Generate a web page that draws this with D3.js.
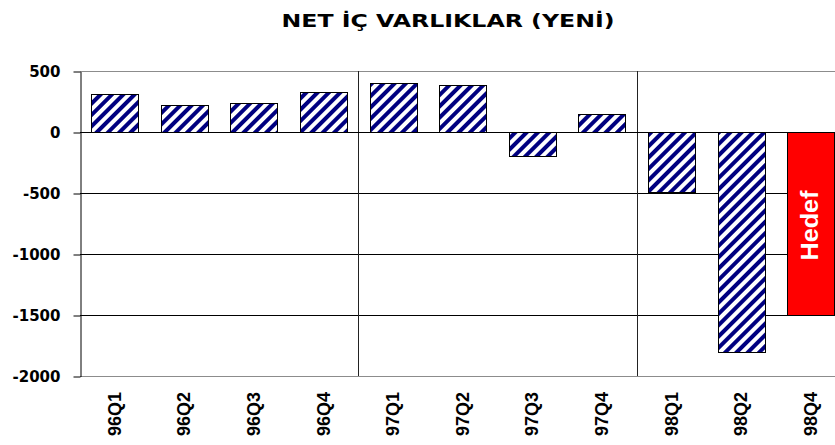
<!DOCTYPE html>
<html>
<head>
<meta charset="utf-8">
<script src="https://cdn.jsdelivr.net/npm/d3@7/dist/d3.min.js"></script>
<style>
  body { margin: 0; background: #fff; }
  svg { display: block; }
</style>
</head>
<body>
<svg id="chart" width="835" height="445"></svg>
<script>
// quarters and net domestic assets
const quarters = ["96Q1", "96Q2", "96Q3", "96Q4", "97Q1", "97Q2", "97Q3", "97Q4", "98Q1", "98Q2", "98Q4"];
const values = [310, 225, 240, 330, 400, 385, -200, 145, -495, -1800, -1500];
const targetQuarter = "98Q4";
const targetLabel = "Hedef";
const yTicks = [500, 0, -500, -1000, -1500, -2000];
const yearStarts = ["97Q1", "98Q1"];
const title = "NET İÇ VARLIKLAR (YENİ)";

const svg = d3.select("#chart");

const plotLeft = 80, plotTop = 71, plotBottom = 376;
const step = 69.6;

const x = d3.scaleBand()
  .domain(quarters)
  .range([plotLeft, plotLeft + step * quarters.length])
  .paddingInner(0.32)
  .paddingOuter(0.16);

const y = d3.scaleLinear()
  .domain([-2000, 500])
  .range([plotBottom, plotTop]);

// stripes for the normal bars
const defs = svg.append("defs");
const pat = defs.append("pattern")
  .attr("id", "hatch")
  .attr("patternUnits", "userSpaceOnUse")
  .attr("width", 8)
  .attr("height", 8)
  .attr("patternTransform", "rotate(45)");
pat.append("rect").attr("width", 8).attr("height", 8).attr("fill", "#fff");
pat.append("rect").attr("width", 4).attr("height", 8).attr("fill", "#000080");

// title
svg.append("text")
  .attr("x", 448)
  .attr("y", 27)
  .attr("text-anchor", "middle")
  .attr("textLength", 333)
  .attr("lengthAdjust", "spacingAndGlyphs")
  .style("font-family", "DejaVu Sans")
  .style("font-weight", "bold")
  .style("font-size", "17px")
  .text(title);

const xEnd = plotLeft + step * quarters.length;

// horizontal grid
svg.append("g")
  .selectAll("line")
  .data(yTicks)
  .enter()
  .append("line")
  .attr("x1", plotLeft)
  .attr("x2", xEnd)
  .attr("y1", d => Math.round(y(d)) + 0.5)
  .attr("y2", d => Math.round(y(d)) + 0.5)
  .attr("stroke", d => (d === 500 || d === -2000) ? "#8c8c8c" : "#000")
  .attr("stroke-width", 1);

// year separators
const gap = (x.step() - x.bandwidth()) / 2;
svg.append("g")
  .selectAll("line")
  .data(yearStarts)
  .enter()
  .append("line")
  .attr("x1", d => Math.round(x(d) - gap) + 0.5)
  .attr("x2", d => Math.round(x(d) - gap) + 0.5)
  .attr("y1", plotTop)
  .attr("y2", plotBottom)
  .attr("stroke", "#222")
  .attr("stroke-width", 1);

// bars
const bars = svg.append("g");
bars.selectAll("rect")
  .data(quarters)
  .enter()
  .append("rect")
  .attr("x", d => Math.round(x(d)) + 0.5)
  .attr("width", Math.round(x.bandwidth()))
  .attr("y", (d, i) => Math.round(y(Math.max(0, values[i]))) + 0.5)
  .attr("height", (d, i) => Math.round(Math.abs(y(values[i]) - y(0))))
  .attr("fill", d => d === targetQuarter ? "#ff0000" : "url(#hatch)")
  .attr("stroke", "#000")
  .attr("stroke-width", 1);

// target label
const ti = quarters.indexOf(targetQuarter);
svg.append("text")
  .attr("transform", "translate(" + (x(targetQuarter) + x.bandwidth() / 2 + 7) + "," + (y(values[ti] / 2) + 2) + ") rotate(-90)")
  .attr("text-anchor", "middle")
  .attr("textLength", 70)
  .attr("lengthAdjust", "spacingAndGlyphs")
  .attr("fill", "#fff")
  .style("font-family", "Liberation Sans, Arial, sans-serif")
  .style("font-weight", "bold")
  .style("font-size", "23px")
  .text(targetLabel);

// zero line
svg.append("line")
  .attr("x1", plotLeft)
  .attr("x2", xEnd)
  .attr("y1", Math.round(y(0)) + 0.5)
  .attr("y2", Math.round(y(0)) + 0.5)
  .attr("stroke", "#000");

// y axis
const yAxis = svg.append("g")
  .attr("transform", "translate(" + (plotLeft + 0.5) + ",0.5)")
  .call(d3.axisLeft(y).tickValues(yTicks).tickSize(7).tickSizeOuter(0).tickFormat(d => String(d)));
yAxis.select(".domain").attr("stroke", "#000");
yAxis.selectAll(".tick line").attr("stroke", "#000");
yAxis.selectAll("text")
  .attr("x", -20)
  .attr("dy", "0.36em")
  .attr("fill", "#000")
  .style("font-family", "DejaVu Sans")
  .style("font-weight", "bold")
  .style("font-size", "15px");

// x labels
svg.append("g")
  .selectAll("text")
  .data(quarters)
  .enter()
  .append("text")
  .attr("transform", d => "translate(" + (x(d) + x.bandwidth() / 2 + 6) + ",392) rotate(-90)")
  .attr("text-anchor", "end")
  .style("font-family", "Liberation Sans, Arial, sans-serif")
  .style("font-weight", "bold")
  .style("font-size", "18px")
  .text(d => d);
</script>
</body>
</html>
